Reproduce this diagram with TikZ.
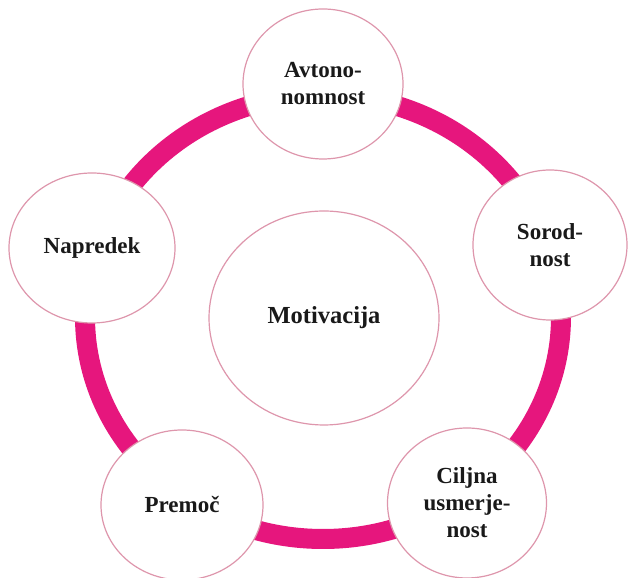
\documentclass[tikz,border=0pt]{standalone}
\usepackage{fontspec}
\setmainfont{Liberation Serif}
\usetikzlibrary{shapes.geometric}
\definecolor{ringmagenta}{RGB}{230,22,125}
\definecolor{rimpink}{RGB}{222,150,172}
\definecolor{inkgray}{RGB}{25,25,25}
\begin{document}
\begin{tikzpicture}[x=1pt,y=1pt,
  facet/.style={ellipse,draw=rimpink,line width=1.2pt,fill=white,text=inkgray,
    minimum width=160pt,minimum height=150pt,inner sep=0pt,align=center,
    font=\fontsize{23}{27}\selectfont\bfseries}]
\useasboundingbox (0,0) rectangle (633,578);
\draw[ringmagenta,line width=20pt] (323,261) ellipse [x radius=238,y radius=222];
\node[facet] (auto) at (323,494) {Avtono-\\nomnost};
\node[facet,minimum width=154pt] (soro) at (550,333) {Sorod-\\nost};
\node[facet,minimum width=159pt] (cilj) at (467,75) {Ciljna\\usmerje-\\nost};
\node[facet,minimum width=162pt] (prem) at (182,73) {Premoč};
\node[facet,minimum width=166pt] (napr) at (92,330) {Napredek};
\node[facet,minimum width=230pt,minimum height=214pt,
  font=\fontsize{24.5}{28}\selectfont\bfseries] (motiv) at (324,260) {Motivacija};
\end{tikzpicture}
\end{document}
